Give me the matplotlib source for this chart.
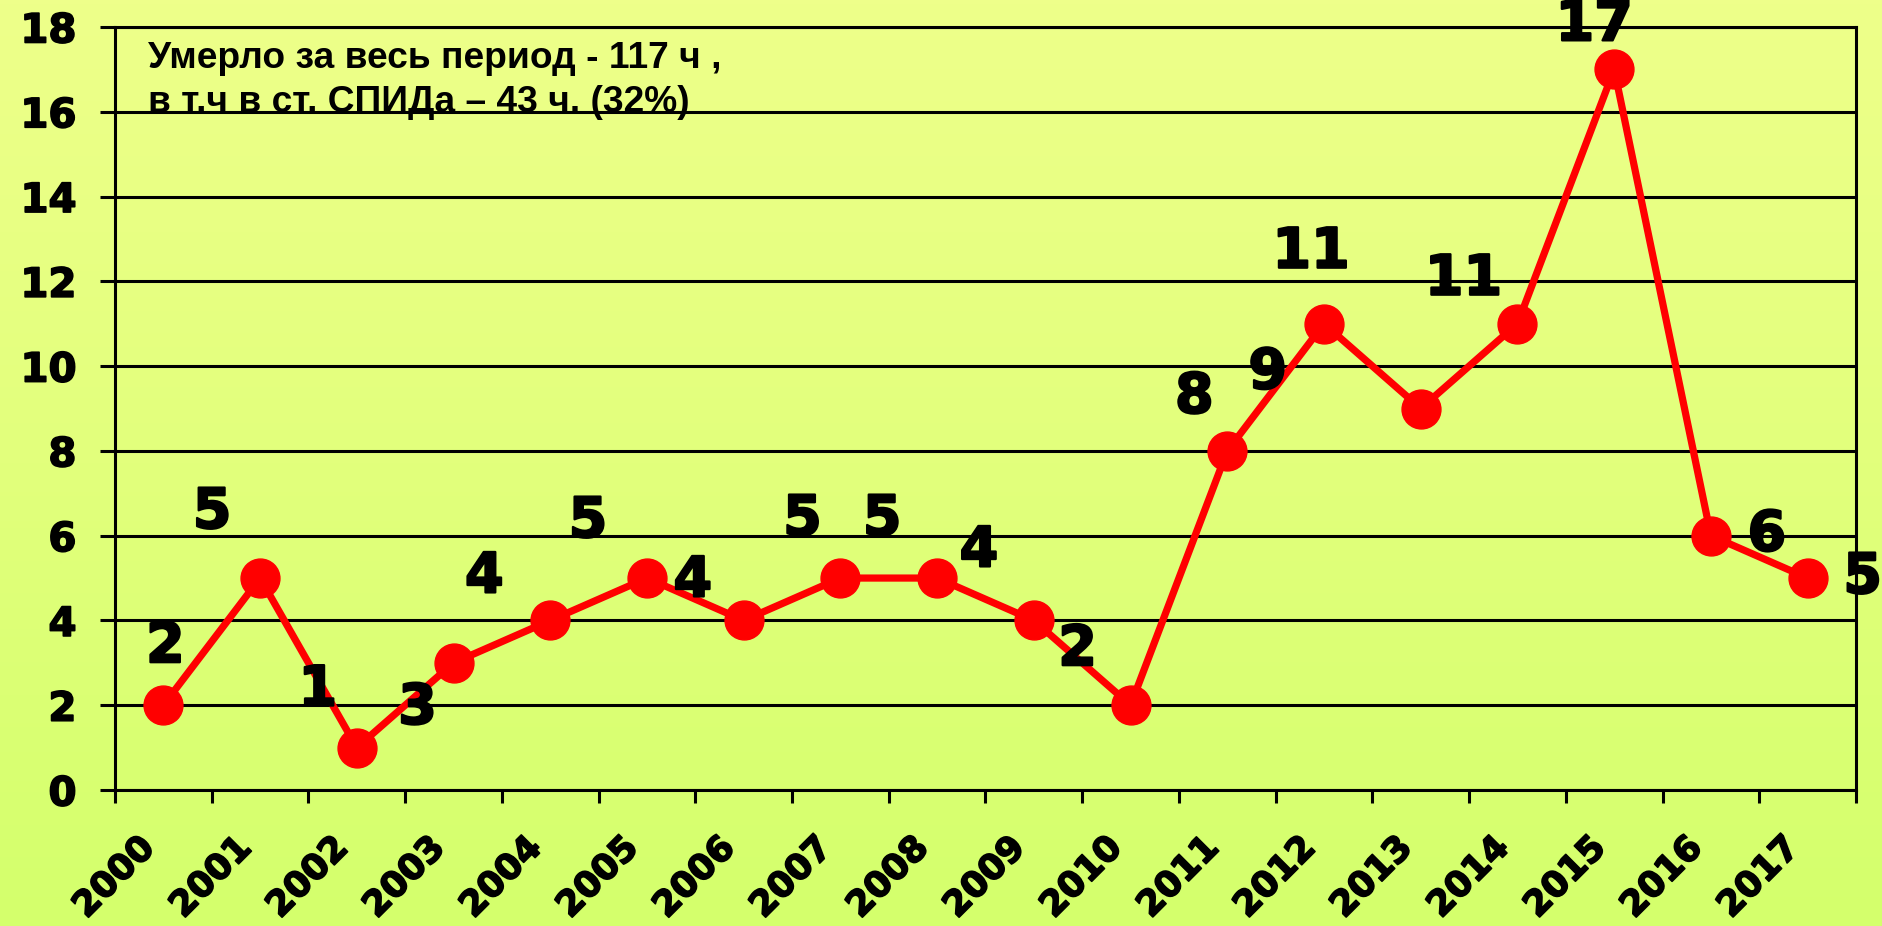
import matplotlib

matplotlib.use("Agg")
import matplotlib.patheffects as pe
import matplotlib.pyplot as plt
import matplotlib.transforms as mtransforms
import numpy as np
from matplotlib.colors import LinearSegmentedColormap

YEARS = [str(y) for y in range(2000, 2018)]
DEATHS = [2, 5, 1, 3, 4, 5, 4, 5, 5, 4, 2, 8, 11, 9, 11, 17, 6, 5]
Y_TICKS = [0, 2, 4, 6, 8, 10, 12, 14, 16, 18]
NOTE_LINES = [
    "Умерло за весь период - 117 ч ,",
    "в т.ч в ст. СПИДа – 43 ч. (32%)",
]

# hand-placed value labels, offset from each point in pixels
LABEL_OFFSETS = [
    (2, 58), (-48, 65), (-39, 57), (-36, -46), (-66, 43), (-59, 56),
    (-51, 39), (-38, 58), (-55, 58), (-55, 69), (-53, 55), (-33, 53),
    (-13, 71), (-153, 35), (-54, 44), (-20, 44), (56, 0), (55, 0),
]

W, H, DPI = 1882, 926, 100
fig = plt.figure(figsize=(W / DPI, H / DPI), dpi=DPI)

# yellow -> lime vertical gradient background
bg = fig.add_axes([0, 0, 1, 1], zorder=-10)
cmap = LinearSegmentedColormap.from_list("bg", ["#d4ff6c", "#e2ff7c", "#eeff8a"])
bg.imshow(np.linspace(0, 1, 256).reshape(-1, 1), aspect="auto", cmap=cmap,
          extent=[0, 1, 0, 1], origin="lower")
bg.axis("off")

left, right, top, bottom = 115, 1856, 27, 790
ax = fig.add_axes([left / W, 1 - bottom / H, (right - left) / W, (bottom - top) / H])
ax.set_facecolor("none")

heavy = [pe.withStroke(linewidth=1.6, foreground="black")]

x = np.arange(len(YEARS))
ax.plot(x, DEATHS, color="#ff0000", linewidth=5.2, marker="o", markersize=28,
        markerfacecolor="#ff0000", markeredgecolor="#ff0000", zorder=3)

for xi, val, (dx, dy) in zip(x, DEATHS, LABEL_OFFSETS):
    ax.annotate(str(val), (xi, val), xytext=(dx, dy), textcoords="offset pixels",
                ha="center", va="center", fontsize=40, fontweight="bold",
                family="DejaVu Sans", color="black", annotation_clip=False,
                zorder=4, path_effects=heavy)

ax.set_xlim(-0.5, len(YEARS) - 0.5)
ax.set_ylim(0, 18)
ax.set_yticks(Y_TICKS)
ax.set_yticklabels([str(t) for t in Y_TICKS], fontsize=29, fontweight="bold")
ax.yaxis.grid(True, color="black", linewidth=2.2)
ax.set_axisbelow(True)

# boundary ticks as marks, category labels at centres
ax.set_xticks(np.arange(-0.5, len(YEARS), 1.0))
ax.set_xticklabels([])
ax.set_xticks(x, minor=True)
ax.set_xticklabels(YEARS, minor=True, rotation=45, ha="right", va="top",
                   rotation_mode="anchor", fontsize=25.5, fontweight="bold")
ax.tick_params(axis="x", which="major", direction="out", length=9.5, width=2.2)
ax.tick_params(axis="x", which="minor", length=0, pad=29)
ax.tick_params(axis="y", direction="out", length=10.8, width=2.2, pad=17)
shift = mtransforms.ScaledTranslation(-26 / DPI, 0, fig.dpi_scale_trans)
for lab in ax.get_xticklabels(minor=True):
    lab.set_transform(lab.get_transform() + shift)
for lab in ax.get_xticklabels(minor=True) + ax.get_yticklabels():
    lab.set_path_effects([pe.withStroke(linewidth=1.2, foreground="black")])

for side in ["left", "bottom", "right", "top"]:
    ax.spines[side].set_linewidth(2.2)
    ax.spines[side].set_color("black")

for i, line in enumerate(NOTE_LINES):
    fig.text(148 / W, 1 - (68 + 44 * i) / H, line, fontsize=26.7, fontweight="bold",
             family="Liberation Sans", va="baseline", ha="left")

fig.savefig("out.png", dpi=DPI)
